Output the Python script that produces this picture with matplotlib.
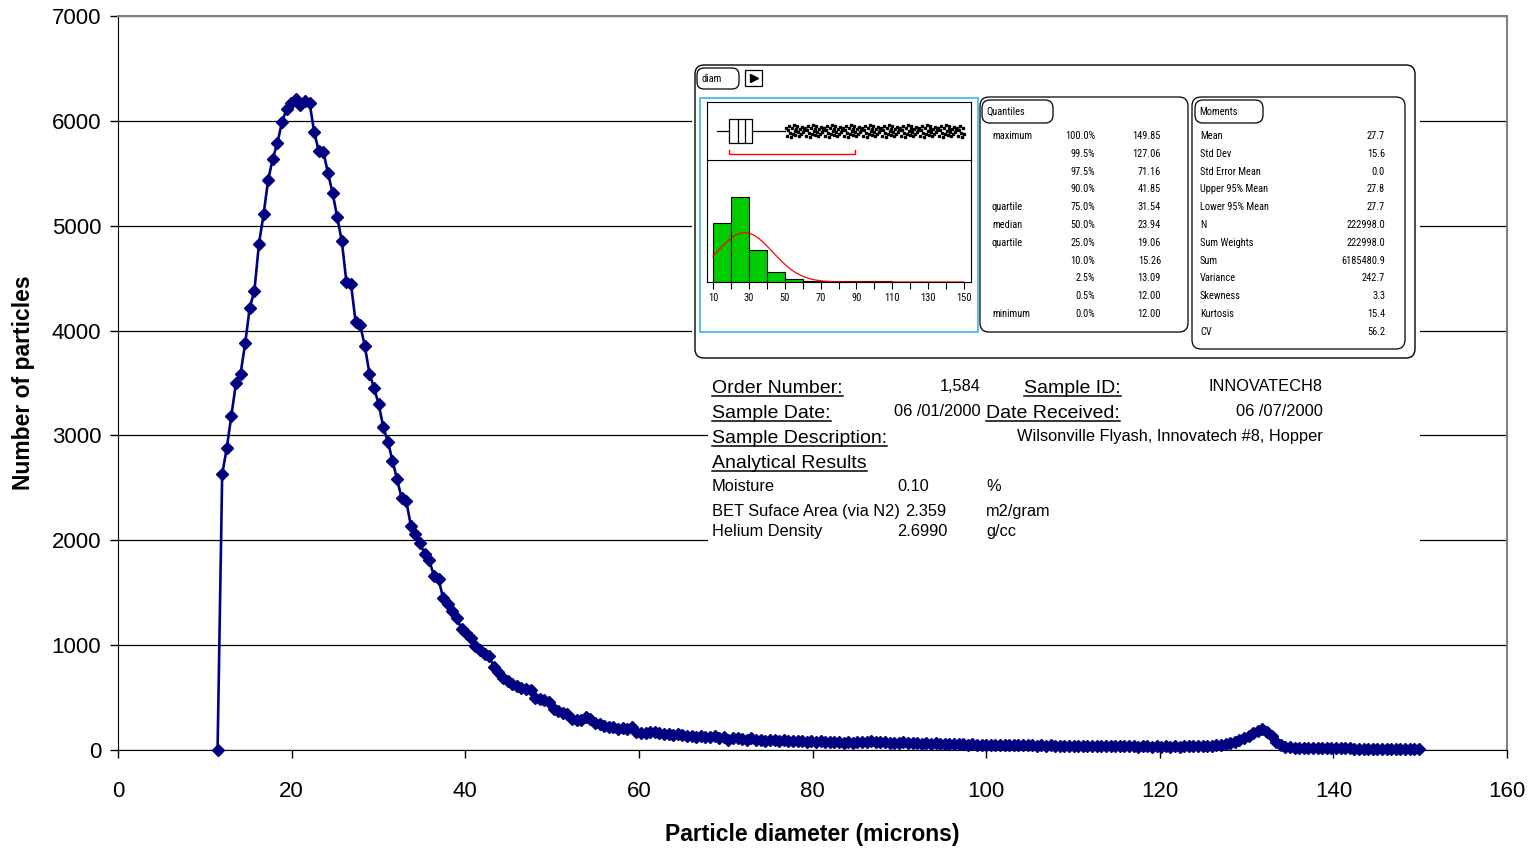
import numpy as np
import matplotlib.pyplot as plt
from matplotlib.patches import FancyBboxPatch, Rectangle

plt.rcParams['font.family'] = ['Liberation Sans', 'DejaVu Sans']

# particle counts per sizing channel; the first channel is the empty lead-in
counts = [0,
    2630, 2880, 3190, 3500, 3590, 3880, 4220, 4380, 4830, 5110,
    5440, 5640, 5790, 5990, 6110, 6170, 6210, 6150, 6190, 6170,
    5890, 5710, 5700, 5500, 5310, 5080, 4850, 4460, 4440, 4080,
    4050, 3850, 3590, 3450, 3300, 3080, 2940, 2760, 2580, 2400,
    2370, 2140, 2060, 1970, 1870, 1810, 1660, 1630, 1450, 1390,
    1330, 1260, 1150, 1120, 1070, 990, 950, 920, 900, 790,
    740, 690, 660, 630, 610, 590, 580, 570, 500, 490,
    480, 460, 390, 375, 355, 340, 300, 285, 290, 315,
    295, 260, 250, 230, 220, 215, 205, 210, 200, 220,
    175, 160, 165, 170, 175, 160, 150, 155, 145, 150,
    140, 135, 130, 128, 135, 120, 125, 130, 115, 120,
    100, 115, 110, 105, 100, 110, 95, 100, 90, 95,
    100, 88, 92, 85, 90, 85, 88, 80, 85, 78,
    82, 75, 80, 72, 78, 70, 75, 68, 72, 74,
    76, 88, 78, 72, 74, 68, 70, 66, 72, 67,
    63, 65, 61, 64, 59, 62, 57, 60, 55, 57,
    54, 56, 52, 54, 50, 52, 49,
    47, 50, 46, 48, 45, 47, 44, 46, 43, 45,
    42, 44, 41, 43, 42, 40, 42, 39, 41, 38,
    40, 37, 39, 38, 36, 38, 35, 37, 36, 34,
    36, 35, 33, 35, 34, 32, 34, 33, 35, 32,
    34, 33, 36, 34, 37, 35, 39, 37, 41,
    44, 50, 57, 66, 78, 92, 110, 132, 160, 185, 200, 175, 130, 80, 45, 30,
    24, 22, 21, 20, 19, 18, 18, 17, 17, 16,
    16, 15, 15, 15, 14, 14, 14, 13, 13, 13,
    13, 12, 12, 12, 12, 12, 11, 11, 11,
]
first_diam, last_diam = 11.47, 149.85

# distribution summary
quantile_names = ['maximum', '', '', '', 'quartile', 'median', 'quartile', '', '', '', 'minimum']
quantile_pcts = ['100.0%', '99.5%', '97.5%', '90.0%', '75.0%', '50.0%', '25.0%',
                 '10.0%', '2.5%', '0.5%', '0.0%']
quantile_vals = [149.85, 127.06, 71.16, 41.85, 31.54, 23.94, 19.06, 15.26, 13.09, 12.00, 12.00]
moment_names = ['Mean', 'Std Dev', 'Std Error Mean', 'Upper 95% Mean', 'Lower 95% Mean', 'N',
                'Sum Weights', 'Sum', 'Variance', 'Skewness', 'Kurtosis', 'CV']
moment_vals = ['27.7', '15.6', '0.0', '27.8', '27.7', '222998.0', '222998.0', '6185480.9',
               '242.7', '3.3', '15.4', '56.2']
mean_diam, sd_diam = 27.7, 15.6

# histogram (% of particles per 10 micron bin)
hist_edges = list(range(10, 151, 10))
hist_pct = [30.5, 44.0, 16.5, 5.0, 1.3, 0.6, 0.4, 0.3, 0.3, 0.3, 0.2, 0.2, 0.2, 0.2]
bracket_span = (19.0, 89.2)
flier_jitter = [0.06, -0.08, 0.02, 0.09, -0.03, -0.10, 0.05, -0.05, 0.10, 0.00,
                -0.07, 0.04, 0.08, -0.02, -0.09, 0.03, -0.06, 0.07, -0.01, 0.01]

# sample sheet
order_number = '1,584'
sample_id = 'INNOVATECH8'
sample_date = '06 /01/2000'
date_received = '06 /07/2000'
description = 'Wilsonville Flyash, Innovatech #8, Hopper'
results = [('Moisture', '0.10', '%'),
           ('BET Suface Area (via N2)', '2.359', 'm2/gram'),
           ('Helium Density', '2.6990', 'g/cc')]

W, H = 1534, 851
fig = plt.figure(figsize=(W / 100, H / 100), dpi=100)


def px_axes(x0, y0, x1, y1, **kw):
    # axes placed by pixel corners (top-left origin)
    return fig.add_axes([x0 / W, 1 - y1 / H, (x1 - x0) / W, (y1 - y0) / H], **kw)


# main size distribution
ax = px_axes(118, 16, 1507, 750)
diam = np.linspace(first_diam, last_diam, len(counts))
ax.plot(diam, counts, color='#000080', lw=1.9, marker='D', ms=6.5,
        mfc='#000080', mec='#000080', clip_on=False, zorder=3)
ax.set_xlim(0, 160)
ax.set_ylim(0, 7000)
ax.set_xticks(range(0, 161, 20))
ax.set_yticks(range(0, 7001, 1000))
ax.yaxis.grid(True, color='black', lw=0.9)
ax.set_axisbelow(True)
ax.tick_params(labelsize=16, length=6, width=1, direction='out')
ax.tick_params(axis='x', pad=16)
ax.tick_params(axis='y', pad=6)
ax.set_xlabel('Particle diameter (microns)', fontsize=16.5, fontweight='bold', labelpad=15.5)
ax.set_ylabel('Number of particles', fontsize=16.5, fontweight='bold', labelpad=12)
for s in ['top', 'right']:
    ax.spines[s].set_color('#808080')
    ax.spines[s].set_linewidth(1.5)

# overlay in pixel coordinates for the report panel and the sample sheet
ov = fig.add_axes([0, 0, 1, 1], zorder=5)
ov.set_xlim(0, W)
ov.set_ylim(H, 0)
ov.axis('off')

ov.add_patch(Rectangle((692, 60), 728, 300, fc='white', ec='none'))
ov.add_patch(Rectangle((708, 362), 712, 186, fc='white', ec='none'))
ov.add_patch(FancyBboxPatch((695, 65), 720, 293, boxstyle='round,pad=0,rounding_size=9',
                            fc='white', ec='black', lw=1))

narrow = ['Liberation Sans Narrow', 'Roboto Condensed', 'Open Sans Condensed', 'Liberation Sans']
small = dict(family=narrow, fontsize=7.5, va='center')

# variable tab and disclosure button
ov.add_patch(FancyBboxPatch((697, 68), 42, 21, boxstyle='round,pad=0,rounding_size=7',
                            fc='white', ec='black', lw=0.9))
ov.text(702, 79, 'diam', **small)
ov.add_patch(Rectangle((745, 70), 17, 16, fc='white', ec='black', lw=0.9))
ov.plot(754, 78, marker='>', ms=6, color='black')
ov.add_patch(Rectangle((700, 98), 278, 234, fc='white', ec='#3DB5E6', lw=1.2))

# quantiles table
ov.add_patch(FancyBboxPatch((980, 97), 208, 235, boxstyle='round,pad=0,rounding_size=9',
                            fc='white', ec='black', lw=0.9))
ov.add_patch(FancyBboxPatch((982, 100), 71, 23, boxstyle='round,pad=0,rounding_size=8',
                            fc='white', ec='black', lw=0.9))
ov.text(986, 112, 'Quantiles', **small)
for i, (nm, pc, v) in enumerate(zip(quantile_names, quantile_pcts, quantile_vals)):
    y = 136 + i * 17.8
    ov.text(992, y, nm, **small)
    ov.text(1095, y, pc, ha='right', **small)
    ov.text(1161, y, f'{v:.2f}', ha='right', **small)

# moments table
ov.add_patch(FancyBboxPatch((1192, 97), 213, 252, boxstyle='round,pad=0,rounding_size=9',
                            fc='white', ec='black', lw=0.9))
ov.add_patch(FancyBboxPatch((1195, 100), 68, 23, boxstyle='round,pad=0,rounding_size=8',
                            fc='white', ec='black', lw=0.9))
ov.text(1199, 112, 'Moments', **small)
for i, (nm, v) in enumerate(zip(moment_names, moment_vals)):
    y = 136 + i * 17.8
    ov.text(1200, y, nm, **small)
    ov.text(1385, y, v, ha='right', **small)

# histogram with normal fit
hx = px_axes(707, 160, 971, 282, zorder=6)
hx.bar(hist_edges[:-1], hist_pct, width=10, align='edge', color='#00CC00',
       edgecolor='black', lw=0.8)
xs = np.linspace(10, 150, 300)
fit = 100 * 10 * np.exp(-0.5 * ((xs - mean_diam) / sd_diam) ** 2) / (sd_diam * np.sqrt(2 * np.pi))
hx.plot(xs, fit, color='red', lw=0.9)
hx.set_xlim(6.65, 153.9)
hx.set_ylim(0, 63.2)
hx.set_yticks([])
hx.set_xticks(hist_edges)
hx.set_xticklabels([str(v) if (v - 10) % 20 == 0 else '' for v in hist_edges], family=narrow)
hx.tick_params(axis='x', length=5, width=0.8, labelsize=7.5, pad=3)

# outlier box plot
q3, med, q1 = quantile_vals[4], quantile_vals[5], quantile_vals[6]
fence = q3 + 1.5 * (q3 - q1)
diam_arr = np.array(diam[1:])
inside = diam_arr[diam_arr <= fence]
fliers = diam_arr[diam_arr > fence]
bx = px_axes(707, 102, 971, 160, zorder=6)
bx.bxp([dict(med=med, q1=q1, q3=q3, whislo=quantile_vals[-1], whishi=inside.max(),
             mean=mean_diam, fliers=[])],
       positions=[0.5], widths=0.41, orientation='horizontal', showcaps=False,
       showmeans=True, meanline=True, showfliers=False,
       boxprops=dict(color='black', lw=0.9), whiskerprops=dict(color='black', lw=0.9),
       medianprops=dict(color='black', lw=0.9),
       meanprops=dict(color='black', lw=0.9, linestyle='-'))
jit = np.resize(flier_jitter, len(fliers))
bx.plot(fliers, 0.5 + jit, 's', ms=1.8, color='black', lw=0)
bx.plot([bracket_span[0], bracket_span[0], bracket_span[1], bracket_span[1]],
        [0.18, 0.11, 0.11, 0.18], color='red', lw=1)
bx.set_xlim(6.65, 153.9)
bx.set_ylim(0, 1)
bx.set_xticks([])
bx.set_yticks([])

# sample sheet
heads = []
big = dict(fontsize=14, va='baseline')
norm = dict(fontsize=11.75, va='baseline')
for x, y, s in [(712, 393, 'Order Number:'), (1024, 393, 'Sample ID:'),
                (712, 418, 'Sample Date:'), (986, 418, 'Date Received:'),
                (712, 443, 'Sample Description:'), (712, 468, 'Analytical Results')]:
    heads.append((ov.text(x, y, s, **big), y))
ov.text(981, 391, order_number, ha='right', **norm)
ov.text(1323, 391, sample_id, ha='right', **norm)
ov.text(981, 416, sample_date, ha='right', **norm)
ov.text(1323, 416, date_received, ha='right', **norm)
ov.text(1323, 441, description, ha='right', **norm)
value_place = [(897, 'left'), (946, 'right'), (947, 'right')]
for (name, val, unit), y, (vx, ha) in zip(results, [491, 516, 536], value_place):
    ov.text(712, y, name, **norm)
    ov.text(vx, y, val, ha=ha, **norm)
    ov.text(986, y, unit, **norm)

fig.canvas.draw()
rend = fig.canvas.get_renderer()
for t, y in heads:
    bb = t.get_window_extent(rend)
    ov.plot([bb.x0, bb.x1], [y + 3, y + 3], color='black', lw=1.1)

fig.savefig('out.png', dpi=100)
